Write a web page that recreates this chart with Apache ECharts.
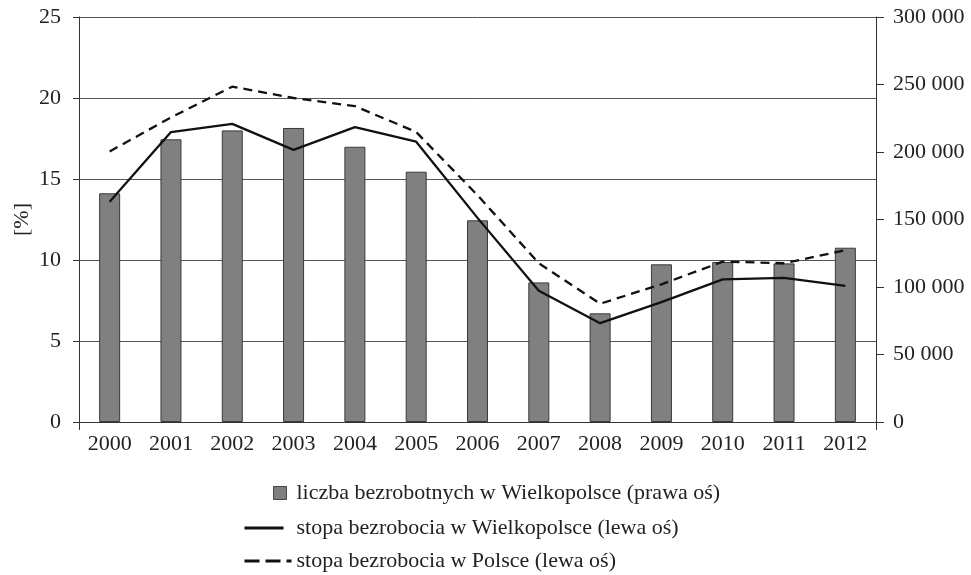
<!DOCTYPE html>
<html><head><meta charset="utf-8">
<script src="https://cdn.jsdelivr.net/npm/echarts@6/dist/echarts.min.js"></script>
<style>html,body{margin:0;padding:0;background:#fff}#c{width:971px;height:575px}</style>
</head><body><div id="c"></div>
<script>
const years = ['2000','2001','2002','2003','2004','2005','2006','2007','2008','2009','2010','2011','2012'];
const unemployedWlkp = [169400,209400,216000,217800,203900,185400,149400,103400,80500,116800,118500,117500,129100];
const rateWlkp = [13.6,17.9,18.4,16.8,18.2,17.3,12.6,8.1,6.1,7.4,8.8,8.9,8.4];
const ratePoland = [16.7,18.8,20.7,20.0,19.5,17.9,14.0,9.8,7.3,8.5,9.9,9.8,10.6];
const leftTicks = {min:0, max:25, interval:5};
const rightTicks = {min:0, max:300000, interval:50000};
const names = ['liczba bezrobotnych w Wielkopolsce (prawa oś)','stopa bezrobocia w Wielkopolsce (lewa oś)','stopa bezrobocia w Polsce (lewa oś)'];

const font = 'Liberation Serif';
const txt = {fontFamily:font, fontSize:22, color:'#222'};
const chart = echarts.init(document.getElementById('c'), null, {renderer:'canvas'});
chart.setOption({
  animation:false,
  backgroundColor:'#fff',
  textStyle:{fontFamily:font},
  grid:{left:79, right:95, top:17, bottom:153, containLabel:false, outerBoundsMode:'none'},
  legend:[
    {data:[{name:names[0], icon:'rect'}], left:268, top:477, itemWidth:13, itemHeight:13,
     itemStyle:{borderColor:'#444', borderWidth:1},
     textStyle:Object.assign({}, txt, {padding:[0,0,0,5]})},
    {data:[names[1]], left:238, top:512, itemWidth:39, itemHeight:14,
     itemStyle:{opacity:0}, lineStyle:{width:3},
     textStyle:Object.assign({}, txt, {padding:[0,0,0,8]})},
    {data:[names[2]], left:238, top:545, itemWidth:47, itemHeight:14,
     itemStyle:{opacity:0}, lineStyle:{width:3, type:[15,6]},
     textStyle:Object.assign({}, txt, {padding:[0,0,0,0]})}
  ],
  xAxis:{type:'category', data:years, boundaryGap:true,
    axisLine:{lineStyle:{color:'#333', width:1}},
    axisTick:{show:true, length:8, interval:(i)=>i===0, lineStyle:{color:'#333'}},
    axisLabel:Object.assign({}, txt, {margin:11})
  },
  yAxis:[
    {type:'value', min:leftTicks.min, max:leftTicks.max, interval:leftTicks.interval, position:'left',
     name:'[%]', nameLocation:'middle', nameRotate:90, nameGap:46, nameMoveOverlap:false,
     nameTextStyle:txt,
     axisLine:{show:true, lineStyle:{color:'#333'}},
     axisTick:{show:true, length:6, lineStyle:{color:'#333'}},
     axisLabel:Object.assign({}, txt, {margin:18}),
     splitLine:{show:true, lineStyle:{color:'#555', width:1}}
    },
    {type:'value', min:rightTicks.min, max:rightTicks.max, interval:rightTicks.interval, position:'right',
     axisLine:{show:true, lineStyle:{color:'#333'}},
     axisTick:{show:true, length:8, lineStyle:{color:'#333'}},
     axisLabel:Object.assign({}, txt, {margin:17,
       formatter:v=>String(v).replace(/\B(?=(\d{3})+(?!\d))/g,' ')}),
     splitLine:{show:false}
    }
  ],
  series:[
    {name:names[0], type:'bar', yAxisIndex:1, data:unemployedWlkp, barWidth:21,
     itemStyle:{color:'#808080', borderColor:'#3a3a3a', borderWidth:1}},
    {name:names[1], type:'line', yAxisIndex:0, data:rateWlkp, symbol:'none',
     lineStyle:{color:'#111', width:2.3}, itemStyle:{color:'#111'}},
    {name:names[2], type:'line', yAxisIndex:0, data:ratePoland, symbol:'none',
     lineStyle:{color:'#111', width:2.3, type:[9,6]}, itemStyle:{color:'#111'}}
  ]
});
</script></body></html>
